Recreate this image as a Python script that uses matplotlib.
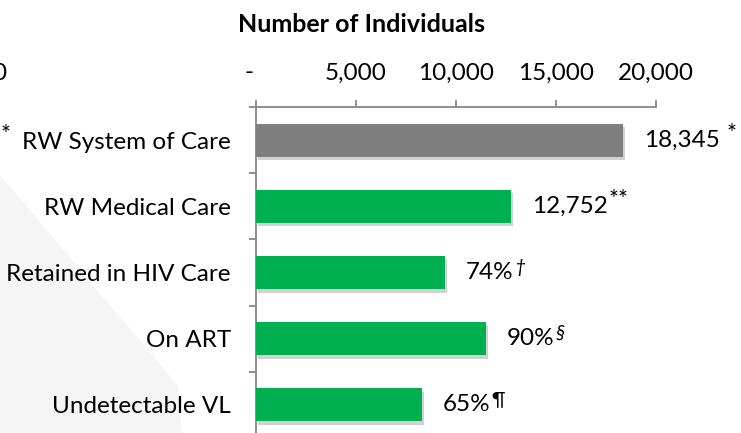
import numpy as np
import matplotlib
matplotlib.use("Agg")
import matplotlib.pyplot as plt
import matplotlib.patheffects as pe
from matplotlib.patches import Polygon

plt.rcParams["font.family"] = ["Lato", "DejaVu Sans"]

# data
stages = ["RW System of Care", "RW Medical Care", "Retained in HIV Care", "On ART", "Undetectable VL"]
counts = [18345, 12752, 9440, 11480, 8290]
value_labels = ["18,345", "12,752", "74%", "90%", "65%"]
footnotes = [" *", "**", "\u2020", "\u00a7", "\u00b6"]
bar_colors = ["#7f7f7f", "#00b050", "#00b050", "#00b050", "#00b050"]
x_ticks = [0, 5000, 10000, 15000, 20000]
x_labels = ["-  ", "5,000", "10,000", "15,000", "20,000"]

W, H = 741, 433
fs = 17.5
fig = plt.figure(figsize=(W / 100, H / 100), dpi=100)

# faint slide background swoosh at the lower left
swoosh = np.array([(0, 175), (45, 228), (95, 288), (140, 340), (178, 386), (182, 433), (0, 433)], float)
swoosh[:, 0] /= W
swoosh[:, 1] = 1 - swoosh[:, 1] / H
fig.patches.append(Polygon(swoosh, closed=True, transform=fig.transFigure,
                           facecolor="#f5f5f5", edgecolor="none", zorder=0))

ax = fig.add_axes([256 / W, 1 - 438 / H, 400 / W, 331 / H])
ax.set_zorder(2)
ax.patch.set_alpha(0)

y = np.arange(len(stages))
bars = ax.barh(y, counts, height=0.5, color=bar_colors, zorder=3)
for b in bars:
    b.set_path_effects([pe.SimplePatchShadow(offset=(1.5, -2.5), shadow_rgbFace="k", alpha=0.18), pe.Normal()])

ax.set_xlim(0, 20000)
ax.set_ylim(len(stages) - 0.5, -0.5)

axis_col = "#878787"
for s in ["bottom", "right"]:
    ax.spines[s].set_visible(False)
for s in ["top", "left"]:
    ax.spines[s].set_color(axis_col)
    ax.spines[s].set_linewidth(1.3)

ax.xaxis.tick_top()
ax.set_xticks(x_ticks)
ax.set_xticklabels(x_labels)
ax.tick_params(axis="x", which="major", direction="out", length=5, width=1.3, color=axis_col,
               pad=12, labelsize=fs, labelcolor="black")

ax.set_yticks(y)
ax.set_yticklabels(stages)
ax.set_yticks(np.arange(-0.5, len(stages)), minor=True)
ax.tick_params(axis="y", which="major", length=0, pad=18, labelsize=fs, labelcolor="black")
ax.tick_params(axis="y", which="minor", direction="out", length=5, width=1.3, color=axis_col)

for i in range(len(stages)):
    t = ax.annotate(value_labels[i], xy=(counts[i], y[i]), xytext=(21, 0), textcoords="offset pixels",
                    ha="left", va="center", fontsize=fs, color="black")
    style = "italic" if footnotes[i] in ["\u2020", "\u00a7"] else "normal"
    size = 17 if "*" in footnotes[i] else 14
    ax.annotate(footnotes[i], xy=(1, 1), xycoords=t, xytext=(1, -14), textcoords="offset pixels",
                ha="left", va="bottom", fontsize=size, fontstyle=style, color="black")

fig.text(361 / W, 1 - 25 / H, "Number of Individuals", ha="center", va="center",
         fontsize=18, fontweight="bold")

# remnants of text at the left edge of the slide
fig.text(6 / W, 1 - 74 / H, "0", ha="right", va="center", fontsize=fs)
fig.text(1 / W, 1 - 134 / H, "*", ha="left", va="center", fontsize=17)

fig.savefig("out.png", dpi=100)
